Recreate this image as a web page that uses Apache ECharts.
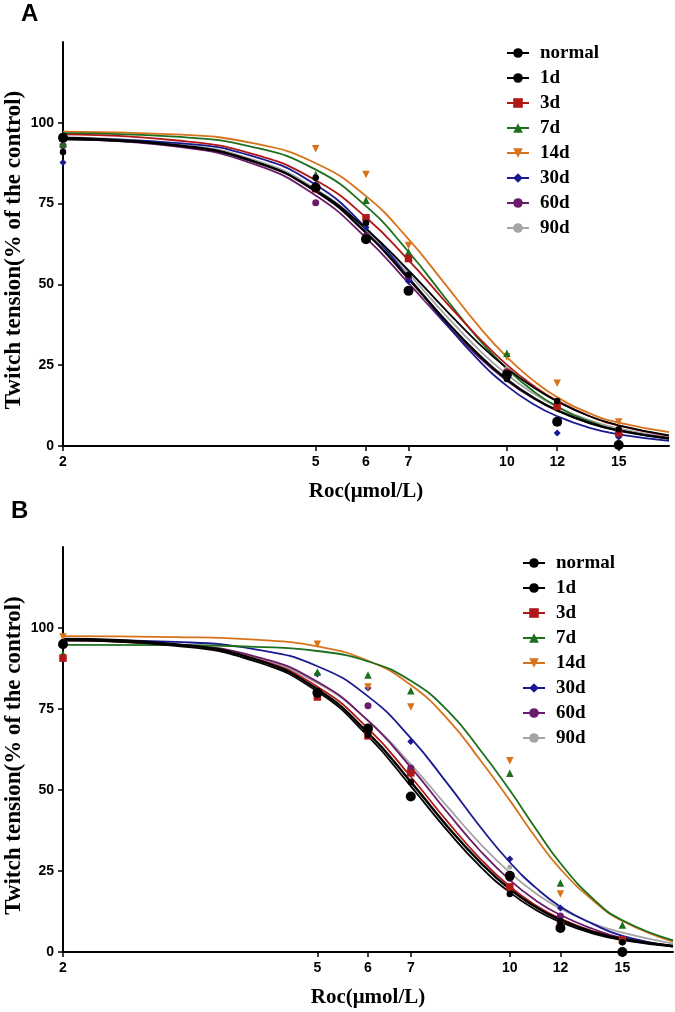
<!DOCTYPE html>
<html>
<head>
<meta charset="utf-8">
<script src="https://cdn.jsdelivr.net/npm/echarts@6/dist/echarts.min.js"></script>
<style>
html,body{margin:0;padding:0;background:#fff;}
#chart{width:675px;height:1012px;}
</style>
</head>
<body>
<div id="chart"></div>
<script>
// ---------- data ----------
const curveX = [2, 3, 4, 5, 6, 7, 8, 9, 10, 11, 12, 13.5, 15, 18];
const pointX = [2, 5, 6, 7, 10, 12, 15];
const xTicks = [2, 5, 6, 7, 10, 12, 15];
const yTicks = [0, 25, 50, 75, 100];
const groupNames = ['normal', '1d', '3d', '7d', '14d', '30d', '60d', '90d'];

// Panel A fitted curves
const a_normal_curve = [95.0, 93.1, 88.0, 78.8, 66.0, 51.8, 38.9, 28.5, 20.6, 15.0, 11.0, 7.1, 4.75, 2.3];
const a_1d_curve     = [95.4, 93.1, 88.0, 79.1, 67.2, 54.3, 42.2, 32.0, 24.1, 18.2, 13.8, 9.2, 6.4, 3.3];
const a_3d_curve     = [96.4, 94.6, 90.2, 82.2, 70.7, 57.5, 44.7, 33.8, 25.1, 18.7, 14.0, 9.2, 6.3, 3.1];
const a_7d_curve     = [96.8, 95.7, 92.4, 85.5, 74.2, 60.1, 45.8, 33.4, 23.9, 17.0, 12.2, 7.6, 4.9, 2.2];
const a_14d_curve    = [97.3, 96.4, 93.6, 87.5, 77.3, 64.0, 50.0, 37.4, 27.5, 20.3, 15.1, 10.1, 7.2, 4.3];
const a_30d_curve    = [95.2, 93.8, 89.5, 80.8, 67.5, 52.2, 38.1, 26.8, 18.6, 13.0, 9.2, 5.6, 3.6, 1.6];
const a_60d_curve    = [94.9, 92.7, 87.2, 77.5, 64.4, 50.4, 37.9, 27.8, 20.2, 14.8, 11.0, 7.1, 4.8, 2.4];
const a_90d_curve    = [95.5, 93.5, 88.5, 79.5, 67.0, 53.3, 40.6, 30.1, 22.1, 16.3, 12.1, 7.9, 5.4, 2.7];

// Panel A measured points
const a_normal_pts = [95.4, 80, 64, 48, 22, 7.5, 0.3];
const a_1d_pts     = [91, 83, 69, 53, 20.7, 13.9, 5.2];
const a_3d_pts     = [95.4, 79.6, 70.6, 58, 22.5, 12.3, 4];
const a_7d_pts     = [93.5, 84, 76, 60, 28.7, 7.4, 0.5];
const a_14d_pts    = [95, 92, 84, 62, 27.5, 19.4, 7.4];
const a_30d_pts    = [87.7, 81, 67.6, 51, 21, 4, 2.8];
const a_60d_pts    = [93, 75.3, 65, 52, 23, 8, 3.5];
const a_90d_pts    = [95, 80, 68, 52, 24, 8, 3];

// Panel B fitted curves
const b_normal_curve = [96.6, 95.0, 90.3, 81.1, 67.6, 52.5, 38.6, 27.6, 19.4, 13.8, 9.9, 6.2, 4.0, 1.9];
const b_1d_curve     = [96.2, 94.5, 89.7, 80.4, 66.6, 51.2, 37.3, 26.3, 18.4, 12.9, 9.2, 5.7, 3.7, 1.7];
const b_3d_curve     = [96.2, 94.7, 90.5, 81.9, 69.0, 54.1, 40.1, 28.7, 20.2, 14.3, 10.3, 6.4, 4.1, 1.9];
const b_7d_curve     = [94.8, 94.7, 94.2, 92.9, 89.7, 83.7, 74.4, 62.2, 49.9, 37.8, 27.4, 16.4, 9.8, 3.6];
const b_14d_curve    = [97.5, 97.2, 96.4, 94.3, 89.9, 82.4, 71.8, 59.1, 46.8, 35.1, 25.6, 15.9, 9.6, 3.2];
const b_30d_curve    = [96.4, 95.7, 93.4, 88.2, 78.9, 66.0, 51.8, 38.5, 27.7, 19.7, 14.0, 8.6, 5.0, 1.8];
const b_60d_curve    = [96.2, 94.9, 91.2, 83.4, 71.4, 57.0, 42.9, 31.1, 22.2, 15.8, 11.4, 7.1, 4.3, 1.7];
const b_90d_curve    = [96.2, 94.7, 90.7, 83.0, 71.5, 57.9, 44.7, 33.3, 24.5, 18.0, 13.4, 8.8, 6.0, 2.6];

// Panel B measured points
const b_normal_pts = [95, 80, 69, 48, 23.5, 7.4, 0];
const b_1d_pts     = [95.5, 79.5, 67, 52.5, 17.9, 9.6, 3];
const b_3d_pts     = [90.7, 78.7, 66.7, 55.3, 20.1, 8.6, 3.7];
const b_7d_pts     = [92, 86.4, 85.5, 80.6, 55.2, 21.3, 8.3];
const b_14d_pts    = [97.2, 95, 81.8, 75.6, 59, 17.9, 3.5];
const b_30d_pts    = [95.5, 85.8, 81.5, 65, 28.7, 13.6, 3];
const b_60d_pts    = [95.5, 80, 76, 56.8, 22.8, 11.1, 3.7];
const b_90d_pts    = [96, 80, 68, 56, 26.2, 10, 4];

// ---------- styles ----------
const styles = {
  'normal': {color: '#000000', symbol: 'circle', size: 10, rot: 0, width: 2.4},
  '1d':     {color: '#000000', symbol: 'circle', size: 6.5, rot: 0, width: 1.8},
  '3d':     {color: '#b01818', symbol: 'rect', size: 7.5, rot: 0, width: 1.8},
  '7d':     {color: '#1c701c', symbol: 'triangle', size: 7.5, rot: 0, width: 1.8},
  '14d':    {color: '#d8731c', symbol: 'triangle', size: 7.5, rot: 180, width: 1.8},
  '30d':    {color: '#1a1a90', symbol: 'diamond', size: 7, rot: 0, width: 1.8},
  '60d':    {color: '#6a1c6a', symbol: 'circle', size: 7, rot: 0, width: 1.8},
  '90d':    {color: '#a4a4a4', symbol: 'circle', size: 5, rot: 0, width: 1.8}
};

const panelA = {
  curves: [a_normal_curve, a_1d_curve, a_3d_curve, a_7d_curve, a_14d_curve, a_30d_curve, a_60d_curve, a_90d_curve],
  pts: [a_normal_pts, a_1d_pts, a_3d_pts, a_7d_pts, a_14d_pts, a_30d_pts, a_60d_pts, a_90d_pts]
};
const panelB = {
  curves: [b_normal_curve, b_1d_curve, b_3d_curve, b_7d_curve, b_14d_curve, b_30d_curve, b_60d_curve, b_90d_curve],
  pts: [b_normal_pts, b_1d_pts, b_3d_pts, b_7d_pts, b_14d_pts, b_30d_pts, b_60d_pts, b_90d_pts]
};

const zip = (xs, ys) => xs.map((x, i) => [x, ys[i]]);

function buildSeries(panel, gi) {
  const out = [];
  const order = [7, 6, 5, 4, 3, 2, 1, 0];
  order.forEach(i => {
    const n = groupNames[i];
    const s = styles[n];
    out.push({
      type: 'line', name: n, xAxisIndex: gi, yAxisIndex: gi,
      data: zip(curveX, panel.curves[i]),
      showSymbol: false, symbol: s.symbol, symbolSize: s.size, symbolRotate: s.rot,
      smooth: 0.5,
      lineStyle: {color: s.color, width: s.width},
      itemStyle: {color: s.color},
      z: 2, silent: true, animation: false
    });
  });
  order.forEach(i => {
    const n = groupNames[i];
    const s = styles[n];
    out.push({
      type: 'scatter', name: n, xAxisIndex: gi, yAxisIndex: gi,
      data: zip(pointX, panel.pts[i]),
      symbol: s.symbol, symbolSize: s.size, symbolRotate: s.rot,
      itemStyle: {color: s.color, opacity: 1},
      z: 3, silent: true, animation: false
    });
  });
  return out;
}

function xAxisCfg(gi) {
  return {
    type: 'log', logBase: 10, gridIndex: gi, min: 2, max: 18,
    name: 'Roc(μmol/L)', nameLocation: 'middle', nameGap: 35,
    nameTextStyle: {fontFamily: 'Liberation Serif', fontWeight: 'bold', fontSize: 21, color: '#000'},
    axisLine: {show: true, onZero: false, lineStyle: {color: '#000', width: 2}},
    axisTick: {show: true, length: 5, customValues: xTicks, lineStyle: {color: '#000', width: 1.5}},
    axisLabel: {show: true, customValues: xTicks, formatter: v => String(Math.round(v)),
      fontFamily: 'Liberation Sans', fontWeight: 'bold', fontSize: 14, color: '#000', margin: 9},
    splitLine: {show: false}, minorTick: {show: false}, minorSplitLine: {show: false}
  };
}
function yAxisCfg(gi) {
  return {
    type: 'value', gridIndex: gi, min: 0, max: 125, interval: 25,
    name: 'Twitch tension(% of the control)', nameLocation: 'middle', nameGap: 37, nameRotate: 90,
    nameMoveOverlap: false,
    nameTextStyle: {fontFamily: 'Liberation Serif', fontWeight: 'bold', fontSize: 23, color: '#000', padding: [0, 12, 0, 0]},
    axisLine: {show: true, lineStyle: {color: '#000', width: 2}},
    axisTick: {show: true, length: 5, customValues: yTicks, lineStyle: {color: '#000', width: 1.5}},
    axisLabel: {show: true, customValues: yTicks, fontFamily: 'Liberation Sans', fontWeight: 'bold',
      fontSize: 14, color: '#000', margin: 9},
    splitLine: {show: false}
  };
}
function legendCfg(left, top) {
  return {
    data: groupNames, orient: 'vertical', left: left, top: top,
    itemWidth: 22, itemHeight: 12, itemGap: 5, padding: 0,
    selectedMode: false,
    textStyle: {fontFamily: 'Liberation Serif', fontWeight: 'bold', fontSize: 19, color: '#000', lineHeight: 20, padding: [0, 0, 0, 6]}
  };
}

const chart = echarts.init(document.getElementById('chart'), null, {renderer: 'canvas'});
chart.setOption({
  animation: false,
  backgroundColor: '#fff',
  title: [
    {text: 'A', left: 21, top: 2, padding: 0, textStyle: {fontFamily: 'Liberation Sans', fontWeight: 'bold', fontSize: 24, color: '#000'}},
    {text: 'B', left: 11, top: 499, padding: 0, textStyle: {fontFamily: 'Liberation Sans', fontWeight: 'bold', fontSize: 24, color: '#000'}}
  ],
  grid: [
    {left: 63, top: 42, width: 606, height: 404, containLabel: false, outerBoundsMode: 'none'},
    {left: 63, top: 547, width: 610, height: 405, containLabel: false, outerBoundsMode: 'none'}
  ],
  xAxis: [xAxisCfg(0), xAxisCfg(1)],
  yAxis: [yAxisCfg(0), yAxisCfg(1)],
  legend: [legendCfg(506, 43), legendCfg(522, 553)],
  series: buildSeries(panelA, 0).concat(buildSeries(panelB, 1))
});
</script>
</body>
</html>
